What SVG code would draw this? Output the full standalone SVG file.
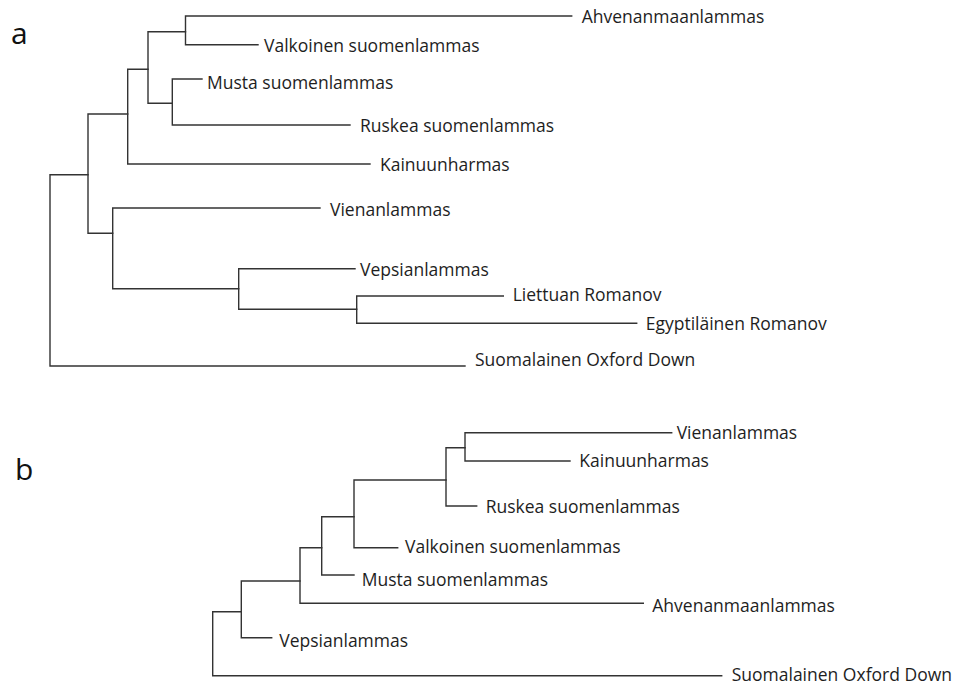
<svg xmlns="http://www.w3.org/2000/svg" width="961" height="683" viewBox="0 0 961 683">
<style>
.br{fill:none;stroke:#333;stroke-width:1.4;stroke-linecap:square}
.lb{font-family:"Open Sans","Noto Sans",sans-serif;font-size:17.5px;fill:#1e1e1e}
.pl{font-family:"Open Sans","Noto Sans",sans-serif;font-size:30px;fill:#111}
</style>
<rect width="961" height="683" fill="#fff"/>
<text class="pl" x="11" y="44">a</text>
<text class="pl" x="15" y="480">b</text>
<g id="connectors">
<path class="br" d="M88,174.7 H50 V366 H465"/>
<path class="br" d="M127.7,114 H88 V233.3 H112.7"/>
<path class="br" d="M148,69.3 H127.7 V164 H370"/>
<path class="br" d="M185.5,31.7 H148 V103.3 H172.3"/>
<path class="br" d="M571.7,16 H185.5 V44.7 H258"/>
<path class="br" d="M202,79 H172.3 V125 H350"/>
<path class="br" d="M320,208 H112.7 V288.7 H238.7"/>
<path class="br" d="M355,268.7 H238.7 V309.3 H356.7"/>
<path class="br" d="M503.3,296 H356.7 V323.3 H636.7"/>
<path class="br" d="M241.3,611.7 H212.7 V675.7 H721.7"/>
<path class="br" d="M300,581 H241.3 V637.7 H271.7"/>
<path class="br" d="M321.7,547.7 H300 V603.3 H643.3"/>
<path class="br" d="M354,516.7 H321.7 V575 H354"/>
<path class="br" d="M446,480 H354 V547.7 H397.7"/>
<path class="br" d="M465,447.7 H446 V506 H476.7"/>
<path class="br" d="M671.7,432.7 H465 V461 H570"/>
</g>
<g id="a-ahvenanmaanlammas"><text class="lb" x="581.7" y="22.7">Ahvenanmaanlammas</text></g>
<g id="a-valkoinen"><text class="lb" x="264" y="51.5">Valkoinen suomenlammas</text></g>
<g id="a-musta"><text class="lb" x="207" y="88.5">Musta suomenlammas</text></g>
<g id="a-ruskea"><text class="lb" x="360" y="131.5">Ruskea suomenlammas</text></g>
<g id="a-kainuunharmas"><text class="lb" x="380" y="171">Kainuunharmas</text></g>
<g id="a-vienanlammas"><text class="lb" x="330" y="215.5">Vienanlammas</text></g>
<g id="a-vepsianlammas"><text class="lb" x="360" y="275.5">Vepsianlammas</text></g>
<g id="a-liettuan"><text class="lb" x="512.7" y="300.5">Liettuan Romanov</text></g>
<g id="a-egyptilainen"><text class="lb" x="645.7" y="330">Egyptiläinen Romanov</text></g>
<g id="a-oxford"><text class="lb" x="475" y="365.5">Suomalainen Oxford Down</text></g>
<g id="b-vienanlammas"><text class="lb" x="676.7" y="439">Vienanlammas</text></g>
<g id="b-kainuunharmas"><text class="lb" x="579.3" y="467">Kainuunharmas</text></g>
<g id="b-ruskea"><text class="lb" x="485.7" y="513">Ruskea suomenlammas</text></g>
<g id="b-valkoinen"><text class="lb" x="405" y="552.5">Valkoinen suomenlammas</text></g>
<g id="b-musta"><text class="lb" x="361.7" y="586">Musta suomenlammas</text></g>
<g id="b-ahvenanmaanlammas"><text class="lb" x="652.3" y="612">Ahvenanmaanlammas</text></g>
<g id="b-vepsianlammas"><text class="lb" x="279.3" y="646.7">Vepsianlammas</text></g>
<g id="b-oxford"><text class="lb" x="731.7" y="681">Suomalainen Oxford Down</text></g>
</svg>
